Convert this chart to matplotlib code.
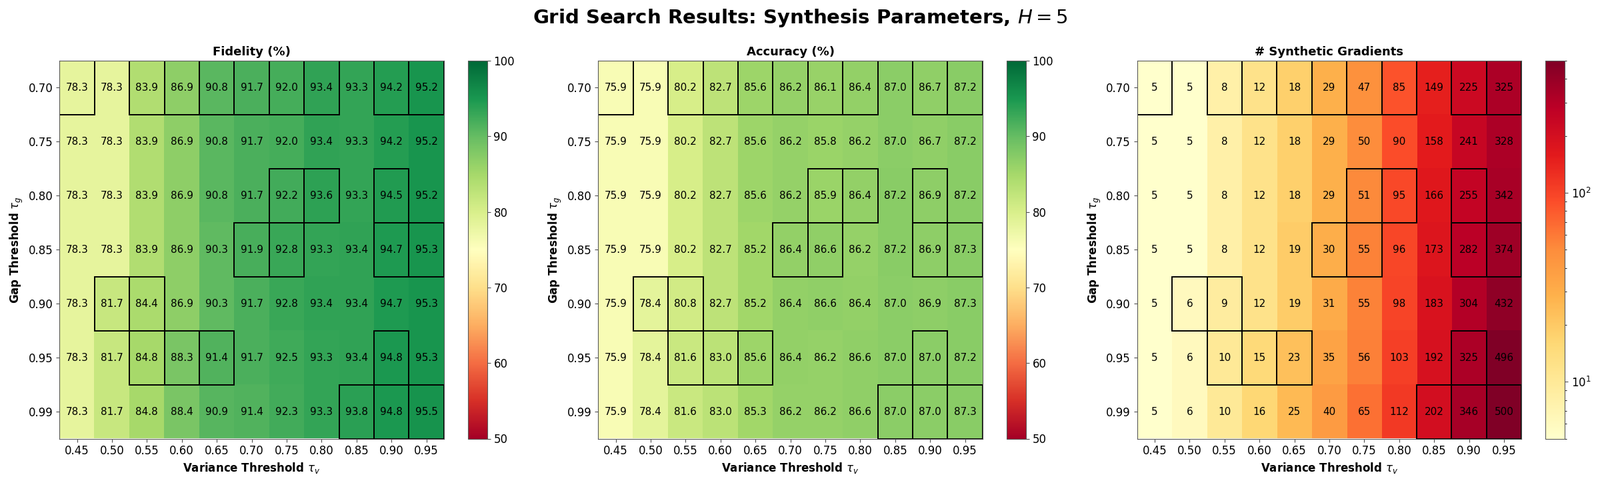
import numpy as np
import matplotlib.pyplot as plt
from matplotlib.colors import LogNorm, Normalize
from matplotlib.patches import Rectangle

# Grid axes
var_thresh = [0.45, 0.50, 0.55, 0.60, 0.65, 0.70, 0.75, 0.80, 0.85, 0.90, 0.95]
gap_thresh = [0.70, 0.75, 0.80, 0.85, 0.90, 0.95, 0.99]

# Fidelity (%) per gap threshold row
fidelity = [
    [78.3, 78.3, 83.9, 86.9, 90.8, 91.7, 92.0, 93.4, 93.3, 94.2, 95.2],
    [78.3, 78.3, 83.9, 86.9, 90.8, 91.7, 92.0, 93.4, 93.3, 94.2, 95.2],
    [78.3, 78.3, 83.9, 86.9, 90.8, 91.7, 92.2, 93.6, 93.3, 94.5, 95.2],
    [78.3, 78.3, 83.9, 86.9, 90.3, 91.9, 92.8, 93.3, 93.4, 94.7, 95.3],
    [78.3, 81.7, 84.4, 86.9, 90.3, 91.7, 92.8, 93.4, 93.4, 94.7, 95.3],
    [78.3, 81.7, 84.8, 88.3, 91.4, 91.7, 92.5, 93.3, 93.4, 94.8, 95.3],
    [78.3, 81.7, 84.8, 88.4, 90.9, 91.4, 92.3, 93.3, 93.8, 94.8, 95.5],
]

# Accuracy (%)
accuracy = [
    [75.9, 75.9, 80.2, 82.7, 85.6, 86.2, 86.1, 86.4, 87.0, 86.7, 87.2],
    [75.9, 75.9, 80.2, 82.7, 85.6, 86.2, 85.8, 86.2, 87.0, 86.7, 87.2],
    [75.9, 75.9, 80.2, 82.7, 85.6, 86.2, 85.9, 86.4, 87.2, 86.9, 87.2],
    [75.9, 75.9, 80.2, 82.7, 85.2, 86.4, 86.6, 86.2, 87.2, 86.9, 87.3],
    [75.9, 78.4, 80.8, 82.7, 85.2, 86.4, 86.6, 86.4, 87.0, 86.9, 87.3],
    [75.9, 78.4, 81.6, 83.0, 85.6, 86.4, 86.2, 86.6, 87.0, 87.0, 87.2],
    [75.9, 78.4, 81.6, 83.0, 85.3, 86.2, 86.2, 86.6, 87.0, 87.0, 87.3],
]

# Number of synthetic gradients
n_grads = [
    [5, 5, 8, 12, 18, 29, 47, 85, 149, 225, 325],
    [5, 5, 8, 12, 18, 29, 50, 90, 158, 241, 328],
    [5, 5, 8, 12, 18, 29, 51, 95, 166, 255, 342],
    [5, 5, 8, 12, 19, 30, 55, 96, 173, 282, 374],
    [5, 6, 9, 12, 19, 31, 55, 98, 183, 304, 432],
    [5, 6, 10, 15, 23, 35, 56, 103, 192, 325, 496],
    [5, 6, 10, 16, 25, 40, 65, 112, 202, 346, 500],
]

# Highlighted cells (row index -> column indices)
highlight = {
    0: [0, 2, 3, 4, 5, 6, 7, 9, 10],
    2: [6, 7, 9],
    3: [5, 6, 9, 10],
    4: [1, 2],
    5: [2, 3, 4, 9],
    6: [8, 9, 10],
}

fig = plt.figure(figsize=(24, 7.24), dpi=100)

panels = [
    ("Fidelity (%)", fidelity, "RdYlGn", Normalize(50, 100), "{:.1f}"),
    ("Accuracy (%)", accuracy, "RdYlGn", Normalize(50, 100), "{:.1f}"),
    ("# Synthetic Gradients", n_grads, "YlOrRd", LogNorm(5, 500), "{:d}"),
]
lefts = [89.3, 897.3, 1705.7]

W, H = 2400, 724
for (title, data, cmap, norm, fmt), left in zip(panels, lefts):
    ax = fig.add_axes([left / W, 66.5 / H, 576.5 / W, 566.5 / H])
    cax = fig.add_axes([(left + 612.7) / W, 66.5 / H, 28.7 / W, 566.5 / H])

    arr = np.array(data)
    im = ax.imshow(arr, cmap=cmap, norm=norm, aspect="auto")

    for i in range(arr.shape[0]):
        for j in range(arr.shape[1]):
            ax.text(j, i, fmt.format(data[i][j]), ha="center", va="center",
                    fontsize=11, color="black")

    for i, cols in highlight.items():
        for j in cols:
            ax.add_patch(Rectangle((j - 0.5, i - 0.5), 1, 1, fill=False,
                                   edgecolor="black", linewidth=1.4))

    ax.set_xticks(range(len(var_thresh)))
    ax.set_xticklabels([f"{v:.2f}" for v in var_thresh])
    ax.set_yticks(range(len(gap_thresh)))
    ax.set_yticklabels([f"{v:.2f}" for v in gap_thresh])
    ax.tick_params(labelsize=12, color="0.3")
    for s in ax.spines.values():
        s.set_edgecolor("0.35")
    ax.set_xlabel(r"Variance Threshold $\tau_v$", fontsize=12, fontweight="bold")
    ax.set_ylabel(r"Gap Threshold $\tau_g$", fontsize=12, fontweight="bold")
    ax.set_title(title, fontsize=13, fontweight="bold")

    cb = fig.colorbar(im, cax=cax)
    cb.outline.set_edgecolor("0.35")
    cb.ax.tick_params(labelsize=12, color="0.3")

fig.suptitle(r"Grid Search Results: Synthesis Parameters, $H=5$",
             fontsize=21, fontweight="bold", y=0.985)

plt.savefig("out.png", dpi=100)
